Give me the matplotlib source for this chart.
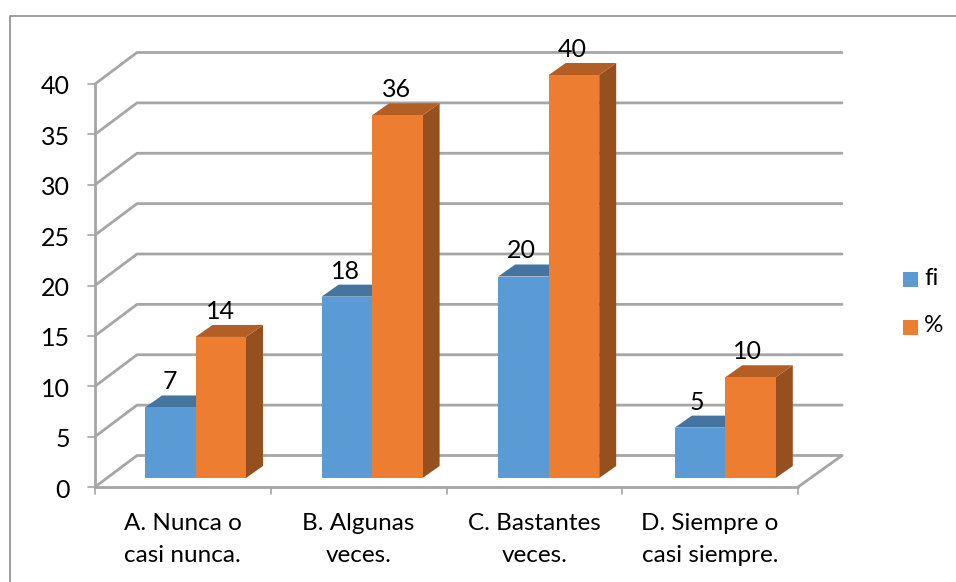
import matplotlib
matplotlib.use("Agg")
import matplotlib.pyplot as plt
from matplotlib.lines import Line2D
from matplotlib.patches import Polygon, Rectangle

plt.rcParams['font.family'] = ['Lato', 'DejaVu Sans']

categories = ['A. Nunca o\ncasi nunca.', 'B. Algunas\nveces.', 'C. Bastantes\nveces.', 'D. Siempre o\ncasi siempre.']
fi = [7, 18, 20, 5]
pct = [14, 36, 40, 10]
series_names = ['fi', '%']
yticks = [0, 5, 10, 15, 20, 25, 30, 35, 40]

W, H = 956, 582
fig = plt.figure(figsize=(W / 100, H / 100), dpi=100)

# front plane of the 3d box, in pixels
left, right, bottom, top = 95, 798, 487, 84
ax = fig.add_axes([left / W, 1 - bottom / H, (right - left) / W, (bottom - top) / H])
ax.set_xlim(0, 4)
ax.set_ylim(0, 40)
ax.axis('off')

ux = (right - left) / 4   # px per category
uy = (bottom - top) / 40  # px per value
grid = '#a6a6a6'


def off(px, py):
    return px / ux, py / uy


def lines(xs, ys, lw=2.0, z=1):
    ax.plot(xs, ys, color=grid, lw=lw, clip_on=False, zorder=z, solid_capstyle='round')


# frame: only the top and left edges fall inside the canvas
fig.add_artist(Line2D([9.5 / W, 9.5 / W, 1], [0, 1 - 15.5 / H, 1 - 15.5 / H], transform=fig.transFigure,
                      color='#8c8c8c', lw=1.2))

# gridlines: side wall and back wall
bx, by = off(42, 31.5)
bx_right = off(44, 0)[0]
for v in yticks:
    lines([0, bx, 4 + bx_right], [v, v + by, v + by])
    lines([-7 / ux, 0], [v, v], lw=1.2)

# axes and floor edge
lines([0, 0], [0, 40])
lines([0, 4], [0, 0])
lines([4, 4 + bx_right], [0, by])
for c in range(5):
    lines([c, c], [0, -7 / uy], lw=1.2)

# bars with top and side faces
bar_w = 50.5 / ux
start = 50 / ux
gap = 176.6 / ux
ox, oy = off(0, 9)
dx, dy = off(17, 12)
front = ['#5b9bd5', '#ed7d31']
tops = ['#44749f', '#b25e25']
sides = ['#3d6a94', '#96501f']

for i in range(len(categories)):
    for s, vals in enumerate([fi, pct]):
        x0 = start + gap * i + bar_w * s
        x1 = x0 + bar_w
        v = vals[i]
        y0 = oy
        y1 = v + oy
        z = 3 + i * 3 + s
        ax.add_patch(Polygon([(x1, y0), (x1 + dx, y0 + dy), (x1 + dx, y1 + dy), (x1, y1)],
                             fc=sides[s], ec='none', zorder=z, clip_on=False))
        ax.add_patch(Polygon([(x0, y1), (x0 + dx, y1 + dy), (x1 + dx, y1 + dy), (x1, y1)],
                             fc=tops[s], ec='none', zorder=z, clip_on=False))
        ax.add_patch(Rectangle((x0, y0), bar_w, v, fc=front[s], ec='none', zorder=z + 0.5, clip_on=False))
        ax.text(x0 + bar_w / 2 - i / ux, y1 + dy + 13.5 / uy, str(v), ha='center', va='center', fontsize=18,
                color='black', zorder=30, clip_on=False)

# tick labels
for v in yticks:
    ax.text(-25 / ux, v - 3 / uy, str(v), ha='right', va='center', fontsize=18, color='black', clip_on=False)
for c, label in enumerate(categories):
    ax.text(c + 0.5, -26 / uy, label, ha='center', va='top', fontsize=17.5, color='black',
            linespacing=1.63, clip_on=False)

# legend
for s, name in enumerate(series_names):
    yp = 279.5 + 47.5 * s
    fig.add_artist(Rectangle((903 / W, 1 - (yp + 7.5) / H), 15 / W, 15 / H, transform=fig.transFigure,
                             fc=front[s], ec='none'))
    fig.text(924 / W, 1 - (yp - 1.5) / H, name, ha='left', va='center', fontsize=17.5, color='black')

fig.savefig('out.png', dpi=100)
